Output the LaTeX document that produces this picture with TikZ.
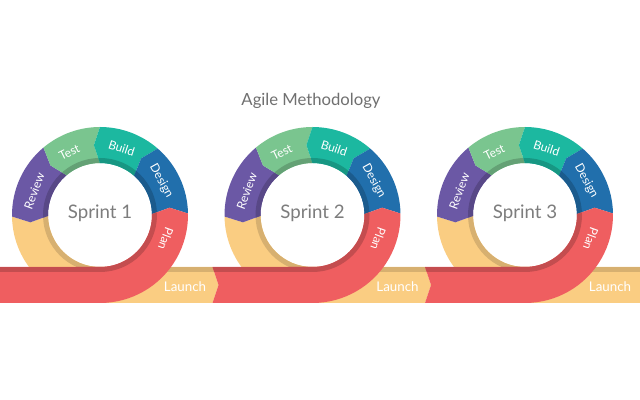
\documentclass[tikz,border=0pt]{standalone}
\usepackage{fontspec}
\setmainfont{Lato}
\usepackage{xcolor}
\definecolor{PlanRed}{RGB}{239,94,96}
\definecolor{DesignBlue}{RGB}{33,111,172}
\definecolor{BuildTeal}{RGB}{28,184,160}
\definecolor{TestGreen}{RGB}{122,197,143}
\definecolor{ReviewPurple}{RGB}{107,88,165}
\definecolor{LaunchYellow}{RGB}{250,205,130}
\definecolor{TitleGrey}{RGB}{112,112,112}
\definecolor{SprintGrey}{RGB}{125,125,125}

% ring piece: outer r 88, inner r 52, arrow point 5 degrees ahead
\newcommand{\segpath}[2]{(#1:88) arc[start angle=#1, end angle=#2, radius=88]
  -- ({#2+5}:70) -- (#2:52) arc[start angle=#2, end angle=#1, radius=52] -- ({#1+5}:70) -- cycle}
\newcommand{\ringseg}[3]{%
  \fill[#3] \segpath{#1}{#2};
  \begin{scope}
    \clip \segpath{#1}{#2};
    \fill[#3!82!black] (0,0) circle[radius=57];
  \end{scope}}

\begin{document}
\begin{tikzpicture}[
    x=0.75pt, y=0.75pt,
    titlelabel/.style={text=TitleGrey, font=\fontsize{12.5}{14}\selectfont},
    sprintlabel/.style={text=SprintGrey, font=\fontsize{14}{16}\selectfont},
    seglabel/.style={text=white, font=\fontsize{9}{11}\selectfont, inner sep=0pt},
    launchlabel/.style={text=white, font=\fontsize{10}{12}\selectfont, inner sep=0pt}
]
\useasboundingbox (0,0) rectangle (640,400);
\fill[white] (0,0) rectangle (640,400);

\node[titlelabel] (title) at (311,299) {Agile Methodology};

\foreach \n/\cx/\notch/\yend/\tip in {1/100/0/112.5/6, 2/312.5/6/112.5/6, 3/525/6/115/0} {
  \begin{scope}[shift={(\cx,185)}]
    % launch band, runs on to the next sprint
    \fill[LaunchYellow] (181:88) arc[start angle=181, end angle=270, radius=88]
      -- (\yend,-88) -- ({\yend+\tip},-70) -- (\yend,-52) -- (0,-52)
      arc[start angle=270, end angle=181, radius=52] -- (186:70) -- cycle;
    \begin{scope}
      \clip (181:88) arc[start angle=181, end angle=270, radius=88]
        -- (\yend,-88) -- ({\yend+\tip},-70) -- (\yend,-52) -- (0,-52)
        arc[start angle=270, end angle=181, radius=52] -- (186:70) -- cycle;
      \fill[LaunchYellow!86!black] (0,0) circle[radius=57];
      \fill[LaunchYellow!86!black] (0,-57) rectangle (200,-52);
    \end{scope}
    \ringseg{130}{181}{ReviewPurple}
    \ringseg{90}{130}{TestGreen}
    \ringseg{49}{90}{BuildTeal}
    \ringseg{1}{49}{DesignBlue}
    % plan band, comes in from the left
    \fill[PlanRed] (-100,-52) -- ({-100+\notch},-70) -- (-100,-88) -- (0,-88)
      arc[start angle=-90, end angle=1, radius=88] -- (6:70) -- (1:52)
      arc[start angle=1, end angle=-90, radius=52] -- cycle;
    \begin{scope}
      \clip (-100,-52) -- ({-100+\notch},-70) -- (-100,-88) -- (0,-88)
        arc[start angle=-90, end angle=1, radius=88] -- (6:70) -- (1:52)
        arc[start angle=1, end angle=-90, radius=52] -- cycle;
      \fill[PlanRed!82!black] (0,0) circle[radius=57];
      \fill[PlanRed!82!black] (-200,-57) rectangle (0,-52);
    \end{scope}

    \node[sprintlabel] (sprint\n) at (0,2) {Sprint \n};
    \node[seglabel, rotate=-110] (plan\n) at (-20:70) {Plan};
    \node[seglabel, rotate=-61] (design\n) at (29:70) {Design};
    \node[seglabel, rotate=-18] (build\n) at (72:70) {Build};
    \node[seglabel, rotate=26] (test\n) at (116:70) {Test};
    \node[seglabel, rotate=70] (review\n) at (160:70) {Review};
    \node[launchlabel] (launch\n) at (85,-72) {Launch};
  \end{scope}
}
\end{tikzpicture}
\end{document}
